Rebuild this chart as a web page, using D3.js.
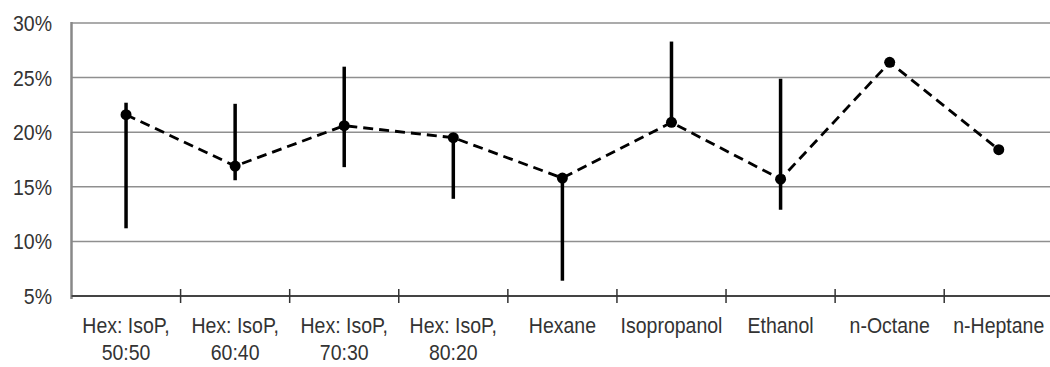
<!DOCTYPE html>
<html lang="en">
<head>
    <meta charset="UTF-8">
    <title>Error bar chart</title>
    <script src="https://d3js.org/d3.v7.min.js"></script>
    <style>
        body { margin: 0; background: #fff; }
        svg { display: block; }
        .lbl { font-family: "Liberation Sans", Arial, sans-serif; font-size: 19.5px; fill: #333; }
    </style>
</head>
<body>
    <svg id="chart"></svg>
    <script>
        // data
        const categories = [
            ["Hex: IsoP,", "50:50"], ["Hex: IsoP,", "60:40"], ["Hex: IsoP,", "70:30"],
            ["Hex: IsoP,", "80:20"], ["Hexane"], ["Isopropanol"], ["Ethanol"],
            ["n-Octane"], ["n-Heptane"]
        ];
        const values  = [21.6, 16.9, 20.6, 19.5, 15.8, 20.9, 15.7, 26.4, 18.4];
        const errLow  = [11.2, 15.6, 16.8, 13.9, 6.4, 20.9, 12.9, null, null];
        const errHigh = [22.7, 22.6, 26.0, 19.5, 15.8, 28.3, 24.9, null, null];
        const yTicks  = [5, 10, 15, 20, 25, 30];

        const width = 1050, height = 367;
        const svg = d3.select("#chart").attr("width", width).attr("height", height);

        const keys = categories.map((c, i) => i);
        const x = d3.scaleBand().domain(keys).range([71.5, 1053.3]);
        const y = d3.scaleLinear().domain([5, 30]).range([296, 23]);
        const cx = i => x(i) + x.bandwidth() / 2;

        // gridlines
        svg.selectAll(".grid")
            .data(yTicks.filter(t => t > 5))
            .join("line")
            .attr("x1", x.range()[0]).attr("x2", x.range()[1])
            .attr("y1", d => y(d)).attr("y2", d => y(d))
            .attr("stroke", "#8f8f8f").attr("stroke-width", 1.5);

        // left axis
        svg.append("line")
            .attr("x1", 71.5).attr("x2", 71.5)
            .attr("y1", y(30) - 1).attr("y2", y(5) + 3)
            .attr("stroke", "#888").attr("stroke-width", 2.5);

        // bottom axis
        svg.append("line")
            .attr("x1", 71.5).attr("x2", x.range()[1])
            .attr("y1", y(5)).attr("y2", y(5))
            .attr("stroke", "#444").attr("stroke-width", 2);

        svg.selectAll(".xtick")
            .data(keys.slice(1))
            .join("line")
            .attr("x1", d => x(d)).attr("x2", d => x(d))
            .attr("y1", y(5) - 7).attr("y2", y(5) + 7)
            .attr("stroke", "#333").attr("stroke-width", 1.5);

        // y labels
        svg.selectAll(".ylab")
            .data(yTicks)
            .join("g")
            .attr("transform", d => `translate(52,${y(d) + 8}) scale(1,1.15)`)
            .append("text")
            .attr("class", "lbl")
            .attr("text-anchor", "end")
            .text(d => d + "%");

        // x labels
        const xl = svg.selectAll(".xlab")
            .data(categories)
            .join("g")
            .attr("transform", (d, i) => `translate(${cx(i)},333) scale(1,1.15)`);
        xl.selectAll("text")
            .data(d => d)
            .join("text")
            .attr("class", "lbl")
            .attr("text-anchor", "middle")
            .attr("y", (d, j) => j * 23.5)
            .text(d => d);

        // error bars
        svg.selectAll(".err")
            .data(keys.filter(i => errLow[i] !== null))
            .join("line")
            .attr("x1", cx).attr("x2", cx)
            .attr("y1", i => y(errLow[i])).attr("y2", i => y(errHigh[i]))
            .attr("stroke", "#000").attr("stroke-width", 3.5);

        // dashed line
        svg.append("path")
            .datum(keys)
            .attr("fill", "none")
            .attr("stroke", "#000")
            .attr("stroke-width", 2.8)
            .attr("stroke-dasharray", "10,6")
            .attr("d", d3.line().x(cx).y(i => y(values[i])));

        // dots
        svg.selectAll(".dot")
            .data(keys)
            .join("circle")
            .attr("cx", cx)
            .attr("cy", i => y(values[i]))
            .attr("r", 5.5)
            .attr("fill", "#000");
    </script>
</body>
</html>
